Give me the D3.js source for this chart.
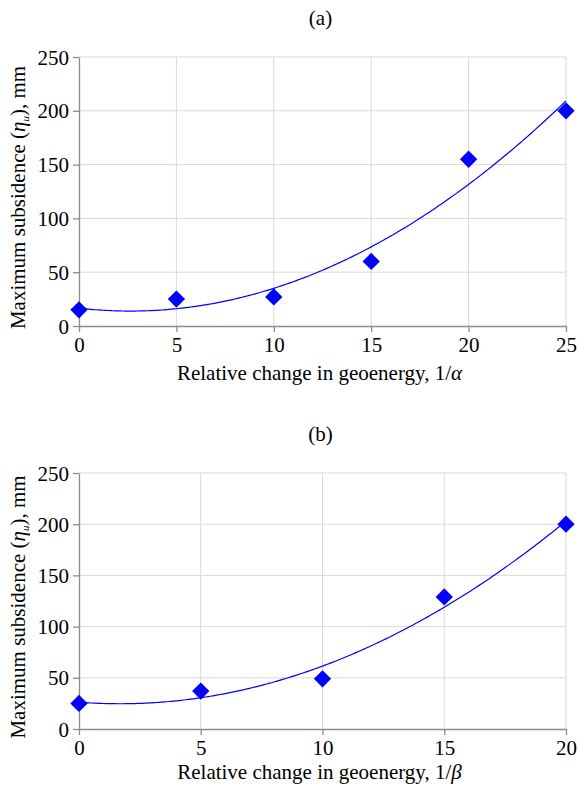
<!DOCTYPE html>
<html>
<head>
<meta charset="utf-8">
<script src="https://cdn.jsdelivr.net/npm/d3@7"></script>
<style>
  body { margin: 0; background: #fff; }
</style>
</head>
<body>
<svg width="579" height="785"></svg>
<script>
// chart (a): 1/alpha
var alphaX = [0, 5, 10, 15, 20, 25];
var alphaY = [15, 25, 27, 60, 155, 200];
// chart (b): 1/beta
var betaX = [0, 5, 10, 15, 20];
var betaY = [25, 37, 49, 129, 200];
var yTicks = [0, 50, 100, 150, 200, 250];

var serif = 'Liberation Serif, Tinos, DejaVu Serif, serif';
var svg = d3.select('svg');
var left = 79;
var right = 566;

// least squares quadratic trendline, same as a spreadsheet polynomial fit
function quadFit(xs, ys) {
  var n = xs.length, s = [0, 0, 0, 0, 0], t = [0, 0, 0];
  for (var i = 0; i < n; i++) {
    for (var k = 0; k < 5; k++) s[k] += Math.pow(xs[i], k);
    for (var k = 0; k < 3; k++) t[k] += Math.pow(xs[i], k) * ys[i];
  }
  var m = [[s[0], s[1], s[2], t[0]], [s[1], s[2], s[3], t[1]], [s[2], s[3], s[4], t[2]]];
  for (var c = 0; c < 3; c++) {
    for (var r = c + 1; r < 3; r++) {
      var f = m[r][c] / m[c][c];
      for (var j = c; j < 4; j++) m[r][j] -= f * m[c][j];
    }
  }
  var co = [0, 0, 0];
  for (var r = 2; r >= 0; r--) {
    var v = m[r][3];
    for (var j = r + 1; j < 3; j++) v -= m[r][j] * co[j];
    co[r] = v / m[r][r];
  }
  return function (x) { return co[0] + co[1] * x + co[2] * x * x; };
}

function drawChart(xs, ys, xMax, top, bottom, label, sym, titleGap) {
  var g = svg.append('g').attr('font-family', serif);
  var x = d3.scaleLinear().domain([0, xMax]).range([left, right]);
  var y = d3.scaleLinear().domain([0, 250]).range([bottom, top]);
  var xTicks = d3.range(0, xMax + 1, 5);

  // grid
  g.selectAll('.vg').data(xTicks.slice(1)).enter().append('line')
    .attr('x1', (d) => x(d)).attr('x2', (d) => x(d))
    .attr('y1', top).attr('y2', bottom)
    .attr('stroke', '#d9d9d9').attr('stroke-width', 1);
  g.selectAll('.hg').data(yTicks.slice(1)).enter().append('line')
    .attr('x1', left).attr('x2', right)
    .attr('y1', (d) => y(d)).attr('y2', (d) => y(d))
    .attr('stroke', '#d9d9d9').attr('stroke-width', 1);

  var xAxis = d3.axisBottom(x).tickValues(xTicks).tickSize(6).tickSizeOuter(0).tickPadding(5);
  var yAxis = d3.axisLeft(y).tickValues(yTicks).tickSize(6).tickSizeOuter(0).tickPadding(4);
  var gx = g.append('g').attr('transform', 'translate(0,' + bottom + ')').call(xAxis);
  var gy = g.append('g').attr('transform', 'translate(' + left + ',0)').call(yAxis);
  [gx, gy].forEach(function (a) {
    a.attr('font-family', serif).attr('font-size', 21);
    a.select('.domain').attr('stroke', '#8c8c8c').attr('stroke-width', 1.3);
    a.selectAll('.tick line').attr('stroke', '#8c8c8c').attr('stroke-width', 1.3);
    a.selectAll('.tick text').attr('fill', '#000');
  });
  gy.selectAll('.tick text').attr('dy', '0.34em');

  // trendline
  var fit = quadFit(xs, ys);
  var pts = d3.range(0, xMax + 0.001, xMax / 200).map((d) => [d, fit(d)]);
  g.append('path')
    .attr('d', d3.line().x((d) => x(d[0])).y((d) => y(d[1]))(pts))
    .attr('fill', 'none').attr('stroke', '#0000ff').attr('stroke-width', 1.2);

  // markers
  g.selectAll('.pt').data(xs).enter().append('path')
    .attr('d', d3.symbol(d3.symbolSquare, 150))
    .attr('transform', (d, i) => 'translate(' + x(d) + ',' + y(ys[i]) + ') rotate(45)')
    .attr('fill', '#0000ff');

  // titles
  g.append('text')
    .attr('x', (left + right) / 2 - 2).attr('y', top - 32)
    .attr('text-anchor', 'middle').attr('font-size', 21)
    .text(label);

  var xt = g.append('text')
    .attr('x', (left + right) / 2 - 3).attr('y', bottom + titleGap)
    .attr('text-anchor', 'middle').attr('font-size', 21);
  xt.append('tspan').text('Relative change in geoenergy, 1/');
  xt.append('tspan').attr('font-style', 'italic').text(sym);

  var yt = g.append('text')
    .attr('transform', 'translate(25,' + ((top + bottom) / 2 + 6) + ') rotate(-90)')
    .attr('text-anchor', 'middle').attr('font-size', 21);
  yt.append('tspan').text('Maximum subsidence  (');
  yt.append('tspan').attr('font-style', 'italic').text('η');
  yt.append('tspan').attr('font-size', 11).attr('dy', 4).attr('font-style', 'italic').text('u');
  yt.append('tspan').attr('dy', -4).text('), mm');
}

drawChart(alphaX, alphaY, 25, 57, 326, '(a)', 'α', 54);
drawChart(betaX, betaY, 20, 473, 729, '(b)', 'β', 50);
</script>
</body>
</html>
